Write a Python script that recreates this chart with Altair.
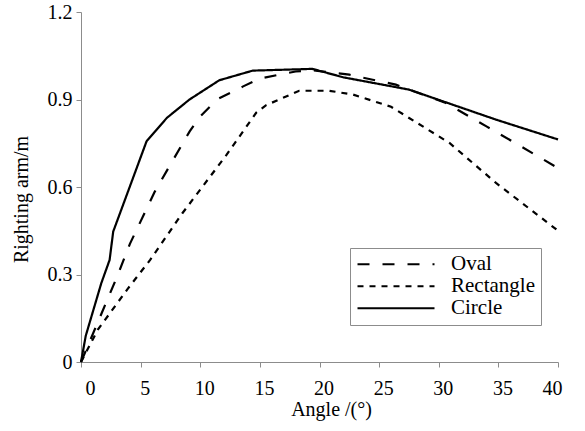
import altair as alt
import pandas as pd

# Righting arm (m) versus heel angle (deg) for three hull section shapes
oval_angle = [0, 1.5, 3.0, 4.1, 6.2, 7.4, 9.1, 10.0, 11.4, 13.6, 15.0, 18.0, 19.4, 22.5, 26.4, 30.6, 34.0, 40.0]
oval_arm = [0, 0.145, 0.29, 0.405, 0.585, 0.67, 0.79, 0.842, 0.90, 0.945, 0.972, 0.996, 1.0, 0.985, 0.951, 0.888, 0.808, 0.665]

rect_angle = [0, 1.4, 3.9, 5.8, 8.5, 12.2, 14.7, 15.5, 18.3, 20.8, 22.8, 26.0, 30.9, 34.8, 40.0]
rect_arm = [0, 0.11, 0.25, 0.35, 0.51, 0.71, 0.855, 0.88, 0.93, 0.93, 0.917, 0.875, 0.751, 0.614, 0.45]

circle_angle = [0, 0.4, 1.7, 2.4, 2.7, 5.5, 7.2, 9.1, 11.6, 14.4, 19.4, 22.0, 27.5, 34.8, 40.0]
circle_arm = [0, 0.09, 0.27, 0.35, 0.447, 0.757, 0.837, 0.90, 0.966, 0.999, 1.005, 0.976, 0.934, 0.831, 0.763]

shapes = ["Oval", "Rectangle", "Circle"]
x_ticks = [0, 5, 10, 15, 20, 25, 30, 35, 40]
y_ticks = [0, 0.3, 0.6, 0.9, 1.2]

rows = []
for name, xs, ys in [("Oval", oval_angle, oval_arm),
                     ("Rectangle", rect_angle, rect_arm),
                     ("Circle", circle_angle, circle_arm)]:
    for i, (a, r) in enumerate(zip(xs, ys)):
        rows.append({"shape": name, "angle": a, "arm": r, "order": i})
df = pd.DataFrame(rows)

FONT = "Liberation Serif"
GREY = "#8c8c8c"

chart = (
    alt.Chart(df)
    .mark_line(color="black", strokeWidth=2.2)
    .encode(
        x=alt.X(
            "angle:Q",
            scale=alt.Scale(domain=[0, 40], nice=False),
            axis=alt.Axis(
                values=x_ticks,
                title="Angle /(°)",
                titleX=250,
                titleY=53,
                titleBaseline="alphabetic",
                labelOffset=4,
                labelPadding=11,
            ),
        ),
        y=alt.Y(
            "arm:Q",
            scale=alt.Scale(domain=[0, 1.2], nice=False),
            axis=alt.Axis(
                values=y_ticks,
                format=".1~f",
                title="Righting arm/m",
                titleX=-54,
                titleY=187,
                titleAngle=-90,
                titleBaseline="alphabetic",
                labelPadding=4,
            ),
        ),
        strokeDash=alt.StrokeDash(
            "shape:N",
            scale=alt.Scale(domain=shapes, range=[[12, 13], [6, 6], [1, 0]]),
            sort=shapes,
            legend=alt.Legend(
                title=None,
                orient="none",
                legendX=269,
                legendY=236,
                strokeColor=GREY,
                fillColor="white",
                padding=6,
                symbolType="stroke",
                symbolSize=5929,
                symbolStrokeWidth=2.2,
                symbolStrokeColor="black",
                labelFontSize=21,
                labelFont=FONT,
                labelOffset=15,
                clipHeight=20.5,
                rowPadding=0,
            ),
        ),
        order="order:Q",
    )
    .properties(
        width=477,
        height=350,
        background="white",
        autosize=alt.AutoSizeParams(type="none"),
        padding={"left": 81, "top": 12, "right": 27, "bottom": 69},
    )
    .configure_view(stroke=None)
    .configure_axis(
        grid=False,
        domainColor=GREY,
        tickColor=GREY,
        tickSize=5,
        labelFont=FONT,
        labelFontSize=20,
        labelColor="black",
        titleFont=FONT,
        titleFontSize=20,
        titleFontWeight="normal",
        titleColor="black",
    )
)

chart.save("out.html", embed_options={"renderer": "svg", "actions": False})
